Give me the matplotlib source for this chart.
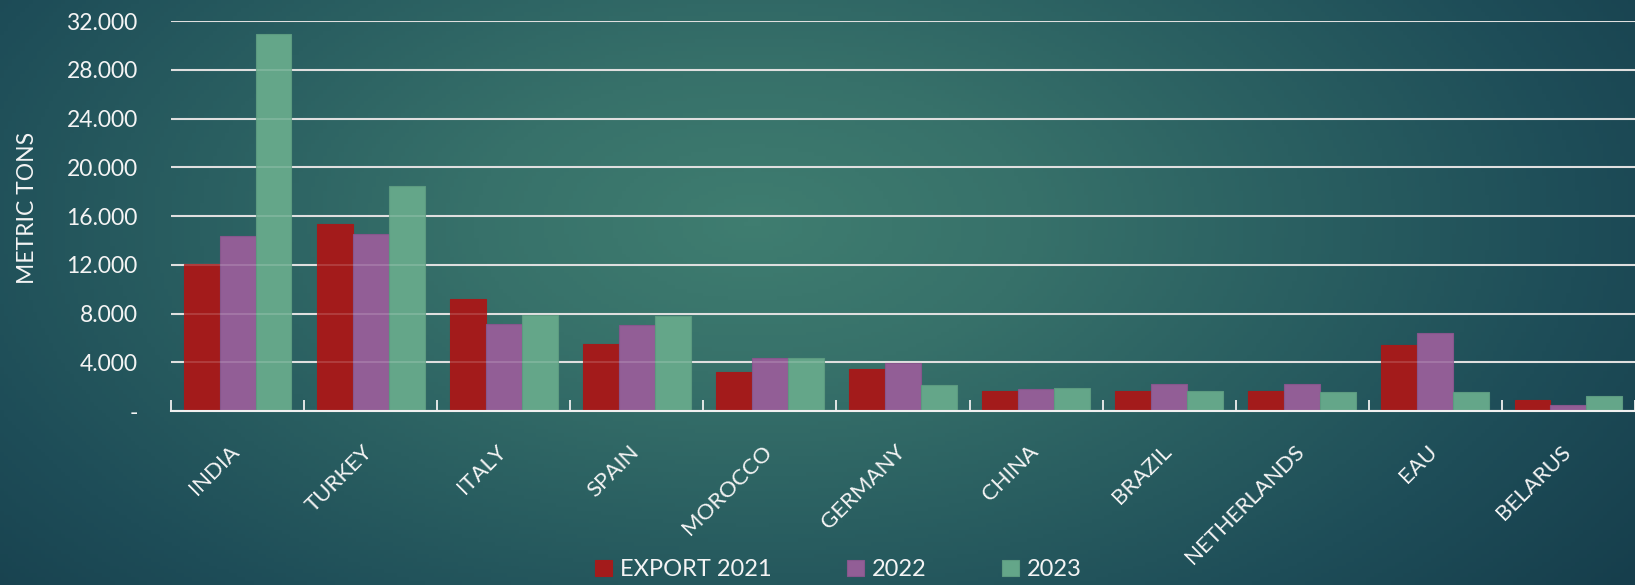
import numpy as np
import matplotlib
matplotlib.use("Agg")
from matplotlib import pyplot as plt
from matplotlib.colors import LinearSegmentedColormap
from matplotlib.transforms import ScaledTranslation

# data
countries = ["INDIA", "TURKEY", "ITALY", "SPAIN", "MOROCCO", "GERMANY",
             "CHINA", "BRAZIL", "NETHERLANDS", "EAU", "BELARUS"]
export_2021 = [12050, 15350, 9200, 5500, 3200, 3420, 1610, 1610, 1610, 5390, 930]
export_2022 = [14400, 14500, 7150, 7050, 4350, 3940, 1800, 2240, 2240, 6400, 460]
export_2023 = [30950, 18450, 7900, 7800, 4350, 2110, 1890, 1670, 1560, 1560, 1260]
series_names = ["EXPORT 2021", "2022", "2023"]
y_ticks = [0, 4000, 8000, 12000, 16000, 20000, 24000, 28000, 32000]
y_tick_labels = ["-", "4.000", "8.000", "12.000", "16.000", "20.000",
                 "24.000", "28.000", "32.000"]

colors = ["#A31B1B", "#925E96", "#64A689"]
edges = ["#A31B1B", "#86568C", "#5C9A80"]
text_col = "#F4F4F4"

plt.rcParams['font.family'] = ['Lato', 'DejaVu Sans']

W, H = 16.35, 5.85
fig = plt.figure(figsize=(W, H), dpi=100)

# background gradient
bg = fig.add_axes([0, 0, 1, 1], zorder=-10)
xx, yy = np.meshgrid(np.linspace(0, 1, 400), np.linspace(0, 1, 150))
d = np.sqrt(((xx - 0.46) * W / H * 0.55) ** 2 + ((yy - 0.62) * 1.0) ** 2)
d = np.clip(d / d.max(), 0, 1)
cmap_bg = LinearSegmentedColormap.from_list(
    "bg", ["#3F7D70", "#37716A", "#2A5F61", "#1E4D58", "#163E4C"])
bg.imshow(d, cmap=cmap_bg, aspect="auto", extent=[0, 1, 0, 1], origin="lower")
bg.set_axis_off()

ax = fig.add_axes([0.1046, 0.2974, 0.8954, 0.6667])
ax.patch.set_alpha(0)

x = np.arange(len(countries))
bw = 0.27
for i, vals in enumerate([export_2021, export_2022, export_2023]):
    ax.bar(x + (i - 1) * bw, vals, width=bw, color=colors[i],
           edgecolor=edges[i], linewidth=0.8, label=series_names[i], zorder=2)

ax.set_xlim(-0.5, len(countries) - 0.5)
ax.set_ylim(0, 32000)
ax.set_yticks(y_ticks)
ax.set_yticklabels(y_tick_labels)
ax.yaxis.grid(True, color="#DADADA", linewidth=1.5, zorder=1)
ax.set_axisbelow(True)
# faint grid showing through bars
ax.hlines(y_ticks[1:], -0.5, len(countries) - 0.5, colors="white",
          linewidth=1.2, alpha=0.18, zorder=3)

for s in ["top", "right", "left"]:
    ax.spines[s].set_visible(False)
ax.spines["bottom"].set_color("#F0F0F0")
ax.spines["bottom"].set_linewidth(1.5)

ax.tick_params(axis="y", length=0, pad=24, labelsize=16.5, labelcolor=text_col)

# category boundary ticks
ax.set_xticks(np.arange(len(countries) + 1) - 0.5, minor=True)
ax.tick_params(axis="x", which="minor", direction="in", length=8,
               width=1.3, color="#F0F0F0")
ax.set_xticks(x)
ax.set_xticklabels(countries, rotation=45, ha="right")
ax.tick_params(axis="x", which="major", length=0, pad=22, labelsize=16,
               labelcolor=text_col)
shift = ScaledTranslation(6 / 100, 0, fig.dpi_scale_trans)
for lbl in ax.get_xticklabels():
    lbl.set_transform(lbl.get_transform() + shift)

ax.set_ylabel("METRIC TONS", color=text_col, fontsize=16.5)
ax.yaxis.set_label_coords(-0.091, 0.52)

leg = fig.legend(loc="center", bbox_to_anchor=(0.513, 0.026), ncol=3,
                 frameon=False, fontsize=17, handlelength=0.7,
                 handleheight=0.7, handletextpad=0.35, columnspacing=3.2,
                 labelcolor=text_col)

fig.savefig("out.png", dpi=100)
